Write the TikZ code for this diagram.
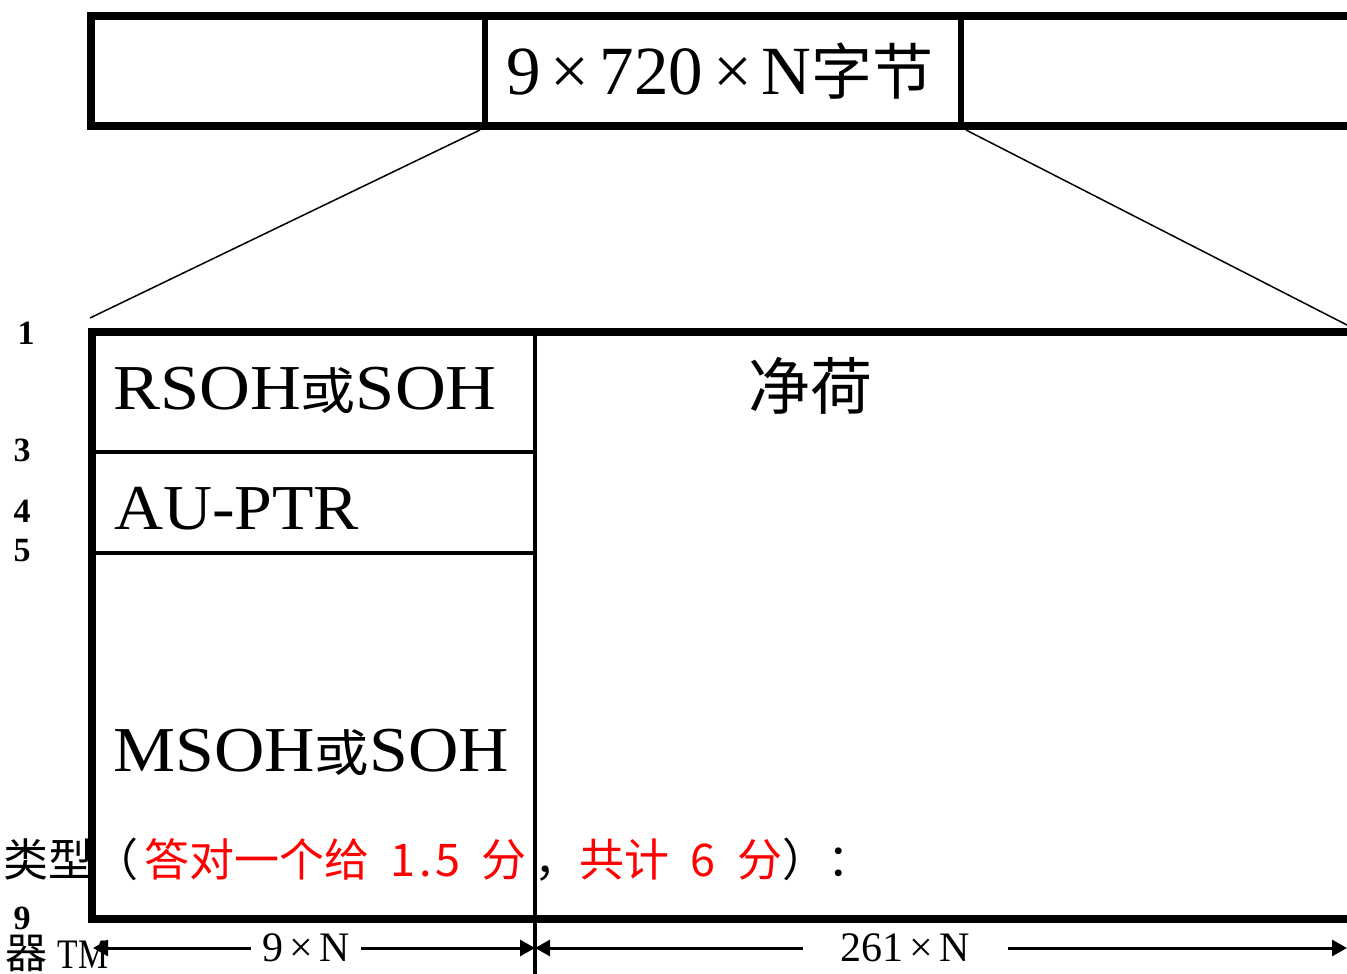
\documentclass[tikz,border=0pt]{standalone}
\usepackage{fontspec}
\setmainfont{Liberation Serif}
\newfontfamily\cjk{Noto Sans CJK SC}
\usetikzlibrary{arrows.meta}
\definecolor{redtxt}{RGB}{255,0,0}
\newcommand\hwc[1]{\makebox[22.5pt]{#1}}
\begin{document}
\begin{tikzpicture}[x=1pt,y=-1pt,
  heavy/.style={line width=8pt},
  divline/.style={line width=4pt},
  thinrule/.style={line width=3.5pt},
  slant/.style={line width=1.5pt},
  dimline/.style={line width=3pt},
  boxtext/.style={anchor=base west,inner sep=0pt,font=\fontsize{64}{64}\selectfont},
  rowlabel/.style={inner sep=0pt,font=\bfseries\fontsize{34}{34}\selectfont},
  dimlabel/.style={fill=white,inner ysep=2pt,font=\fontsize{42}{42}\selectfont}]
\useasboundingbox (0,0) rectangle (1347,974);

% lower texts (under the box lines)
\node[anchor=base west,inner sep=0pt,font=\cjk\fontsize{45}{45}\selectfont] (note) at (3,876)
  {类型（\hspace{6pt}\textcolor{redtxt}{答对一个给\hwc{}\hwc{1}\hwc{.}\hwc{5}\hwc{}分}\hspace{8pt}，\textcolor{redtxt}{共计\hwc{}\hwc{6}\hwc{}分}）：};
\node[anchor=base west,inner sep=0pt,font=\fontsize{42}{42}\selectfont] (tm) at (5,968)
  {{\cjk 器} \scalebox{0.8}[1]{TM}};
\node[rowlabel] (r9) at (22,918) {9};

% top box
\coordinate (tA) at (91,16);
\coordinate (tB) at (91,126);
\coordinate (tC) at (1360,16);
\coordinate (tD) at (1360,126);
\coordinate (d1t) at (485,16);
\coordinate (d1b) at (485,126);
\coordinate (d2t) at (961,16);
\coordinate (d2b) at (961,126);
\draw[heavy] (tC) -- (tA) -- (tB) -- (tD);
\draw[line width=6pt] (d1t) -- (d1b);
\draw[line width=6pt] (d2t) -- (d2b);
\node[inner sep=0pt,font=\fontsize{69}{69}\selectfont] (total) at (720,71)
  {9\hspace{10pt}×\hspace{10pt}720\hspace{10pt}×\hspace{10pt}N{\cjk\fontsize{61}{61}\selectfont 字节}};

% zoom lines
\coordinate (zl1) at (480,130);
\coordinate (zl2) at (90,318);
\coordinate (zr1) at (966,130);
\coordinate (zr2) at (1347,325);
\draw[slant] (zl1) -- (zl2);
\draw[slant] (zr1) -- (zr2);

% main frame
\coordinate (mA) at (92,332);
\coordinate (mB) at (92,919);
\coordinate (mC) at (1360,332);
\coordinate (mD) at (1360,919);
\coordinate (vt) at (535,332);
\coordinate (vb) at (535,974);
\coordinate (h1l) at (92,452);
\coordinate (h1r) at (535,452);
\coordinate (h2l) at (92,553);
\coordinate (h2r) at (535,553);
\draw[heavy] (mC) -- (mA) -- (mB) -- (mD);
\draw[divline] (vt) -- (vb);
\draw[thinrule] (h1l) -- (h1r);
\draw[thinrule] (h2l) -- (h2r);

\node[boxtext] (rsoh) at (113,409) {\scalebox{1.1}[1]{RSOH{\cjk\fontsize{50}{50}\selectfont 或}SOH}};
\node[boxtext] (auptr) at (114,529) {\scalebox{1.06}[1]{AU-PTR}};
\node[boxtext] (msoh) at (113,771) {\scalebox{1.09}[1]{MSOH{\cjk\fontsize{50}{50}\selectfont 或}SOH}};
\node[inner sep=0pt,font=\cjk\fontsize{62}{62}\selectfont] (payload) at (810,386) {净荷};

% row labels
\node[rowlabel] (r1) at (26,333) {1};
\node[rowlabel] (r3) at (22,450) {3};
\node[rowlabel] (r4) at (22,511) {4};
\node[rowlabel] (r5) at (22,551) {5};

% dimension lines
\coordinate (dl) at (93,948);
\coordinate (dm) at (535,948);
\coordinate (dr) at (1347,948);
\draw[dimline,{Triangle[length=15pt,width=16pt]}-{Triangle[length=15pt,width=16pt]}] (dl) -- (dm);
\draw[dimline,{Triangle[length=15pt,width=16pt]}-{Triangle[length=15pt,width=16pt]}] (dm) -- (dr);
\node[dimlabel,minimum width=110pt] (w9) at (306,948) {9\hspace{6pt}×\hspace{6pt}N};
\node[dimlabel,minimum width=205pt] (w261) at (905,948) {261\hspace{6pt}×\hspace{6pt}N};
\end{tikzpicture}
\end{document}
